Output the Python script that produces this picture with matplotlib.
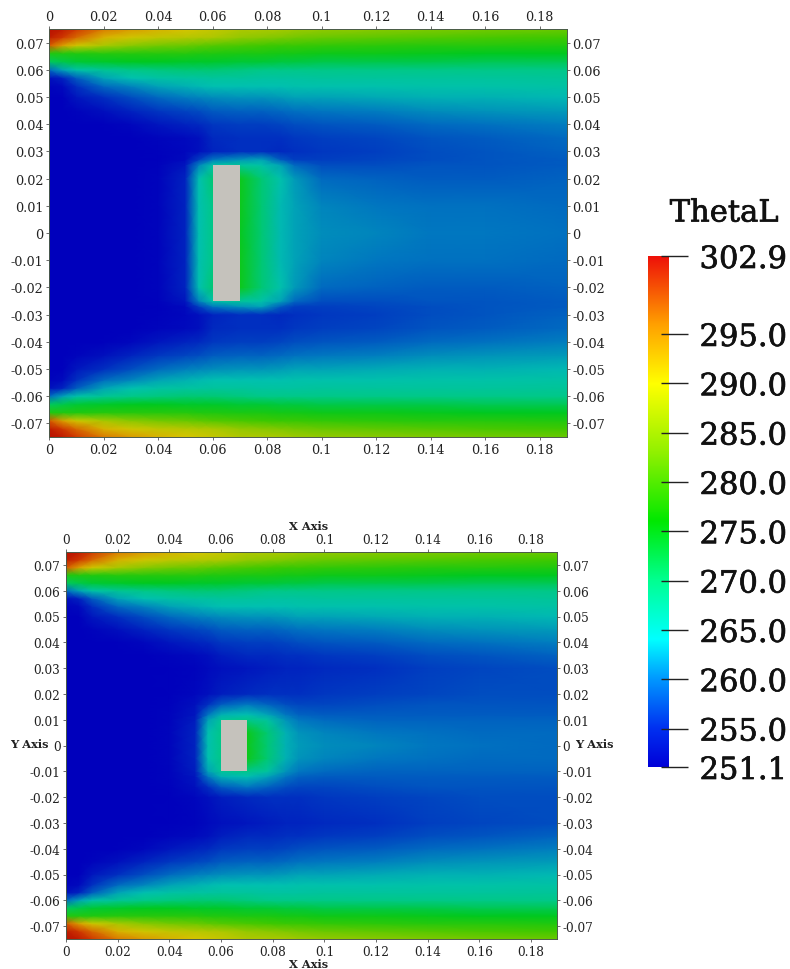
#!/usr/bin/env python3
"""Two ThetaL temperature fields around a grey block, with one shared scale bar."""

import matplotlib

matplotlib.use("Agg")
import matplotlib.patheffects as pe
import matplotlib.pyplot as plt
import numpy as np
from matplotlib.cm import ScalarMappable
from matplotlib.colors import LinearSegmentedColormap, Normalize
from matplotlib.patches import Rectangle

FIG_W, FIG_H = 790, 970

# Stations the field was read at. Only the upper half is read, the picture is mirror symmetric.
x_stations = [0, 0.005, 0.01, 0.02, 0.03, 0.04, 0.05, 0.055, 0.06, 0.07, 0.078, 0.085, 0.09, 0.10, 0.12, 0.14, 0.16, 0.19]
y_band = [0.075, 0.072, 0.069, 0.066, 0.063, 0.060, 0.057, 0.054, 0.05, 0.045, 0.04]
y_core_top = [0.035, 0.03, 0.027, 0.025, 0.02, 0.01, 0.0]
y_core_bottom = [0.035, 0.03, 0.02, 0.016, 0.012, 0.01, 0.005, 0.0]

band_rows = [
    [302.9, 302, 300, 296, 293.5, 291.5, 290, 289, 288, 286, 285.5, 285, 284.5, 284, 283.5, 283, 282.5, 282],
    [302, 300, 297, 291.5, 289, 287.5, 286.5, 286, 285.5, 284, 283.5, 283, 282.5, 282, 281.5, 281, 280.5, 280],
    [298, 293, 289, 285, 283.5, 282.5, 282, 281.5, 281, 280.5, 280, 279.5, 279.5, 279, 278.5, 278, 278, 277.5],
    [277.5, 277.5, 277.5, 278, 278, 278, 278, 277.5, 277.5, 277, 277, 276.5, 276.5, 276, 276, 275.5, 275, 275],
    [272, 273, 274, 274.5, 275, 275, 274.5, 274.5, 274.5, 274, 274, 273.5, 273.5, 273, 273, 273, 272.5, 272.5],
    [259, 263, 266, 268.5, 270, 270.5, 271, 271, 271, 270.5, 270, 270, 270, 270, 270, 270, 270, 270],
    [252.5, 254, 258, 263, 265, 266.5, 267, 267, 267.5, 267.5, 267, 267, 267, 267.5, 267.5, 267.5, 267.5, 268],
    [251.5, 252, 255, 259, 261, 263, 264, 264.5, 265, 265, 265, 265, 265.5, 265.5, 265.5, 266, 266, 266.5],
    [251.2, 251.3, 253, 255, 257, 259, 260.5, 261, 261.5, 262, 262, 262.5, 263, 263, 263.5, 264, 264, 264.5],
    [251.1, 251.1, 251.5, 252.5, 254, 255.5, 256.5, 257, 258, 258.5, 258.5, 259, 259.5, 260, 260.5, 261.5, 262, 262.5],
    [251.1, 251.1, 251.1, 251.3, 251.8, 253, 254, 254.5, 255.5, 256, 256, 256.5, 257, 257.5, 258, 259, 259.5, 260.5],
]

core_rows_top = [
    [251.1, 251.1, 251.1, 251.1, 251.2, 251.6, 252, 252.5, 254.5, 255, 255, 255, 255.5, 256, 256.5, 257.5, 258, 259],
    [251.1, 251.1, 251.1, 251.1, 251.2, 251.4, 251.8, 252.5, 254, 255, 255, 254.5, 255, 255.5, 256, 257, 257.5, 258.5],
    [251.1, 251.1, 251.1, 251.1, 251.1, 251.3, 252, 256, 260, 262, 263, 258, 256, 256, 256.5, 257, 257.5, 258],
    [251.1, 251.1, 251.1, 251.1, 251.1, 251.4, 253, 261, 266, 268, 266, 263, 259, 257, 257, 257.5, 257.5, 258],
    [251.1, 251.1, 251.1, 251.1, 251.1, 251.5, 254, 265, 271, 276, 271, 265.5, 262.5, 259, 258.5, 258, 258, 258.5],
    [251.1, 251.1, 251.1, 251.1, 251.1, 251.5, 254, 265, 270, 276, 271, 264.5, 263, 261, 260, 259.5, 259.5, 259],
    [251.1, 251.1, 251.1, 251.1, 251.1, 251.5, 254, 265, 270, 275.5, 271, 264.5, 263, 261.5, 261, 260, 260, 259.5],
]

core_rows_bottom = [
    [251.1, 251.1, 251.1, 251.1, 251.2, 251.6, 252, 252.5, 253.5, 254.5, 254.5, 255, 255, 255.5, 256, 257, 257.5, 258.5],
    [251.1, 251.1, 251.1, 251.1, 251.2, 251.3, 251.5, 252, 252.5, 253, 253.5, 254, 254, 254.5, 255, 256, 256.5, 257],
    [251.1, 251.1, 251.1, 251.1, 251.1, 251.3, 251.8, 252.5, 253.5, 254.5, 255, 255, 255, 255.5, 256, 256.5, 257, 257],
    [251.1, 251.1, 251.1, 251.1, 251.1, 251.4, 252.5, 255, 258, 260, 258.5, 257, 256.5, 256.5, 257, 257.5, 257.5, 257.5],
    [251.1, 251.1, 251.1, 251.1, 251.1, 251.5, 253, 260, 264, 265, 263, 260, 258.5, 258, 258, 258, 258, 258],
    [251.1, 251.1, 251.1, 251.1, 251.1, 251.5, 253.5, 263, 268, 270, 267, 262, 260, 259, 258.5, 258.5, 258.5, 258.5],
    [251.1, 251.1, 251.1, 251.1, 251.1, 251.6, 254, 265, 270, 276, 271, 264, 262, 261, 260, 259.5, 259, 259],
    [251.1, 251.1, 251.1, 251.1, 251.1, 251.6, 254, 265, 270, 276, 271, 264, 262.5, 261.5, 261, 260, 259.5, 259],
]

x_ticks = [0, 0.02, 0.04, 0.06, 0.08, 0.1, 0.12, 0.14, 0.16, 0.18]
x_labels = ["0", "0.02", "0.04", "0.06", "0.08", "0.1", "0.12", "0.14", "0.16", "0.18"]
y_ticks = [0.07, 0.06, 0.05, 0.04, 0.03, 0.02, 0.01, 0, -0.01, -0.02, -0.03, -0.04, -0.05, -0.06, -0.07]
y_labels = ["0.07", "0.06", "0.05", "0.04", "0.03", "0.02", "0.01", "0",
            "-0.01", "-0.02", "-0.03", "-0.04", "-0.05", "-0.06", "-0.07"]
bar_ticks = [302.9, 295, 290, 285, 280, 275, 270, 265, 260, 255, 251.1]
bar_labels = ["302.9", "295.0", "290.0", "285.0", "280.0", "275.0", "270.0", "265.0", "260.0", "255.0", "251.1"]

V_MIN, V_MAX = 251.1, 302.9

# The field is drawn darker than the bar, as if lit, so each has its own colour stops.
field_stops = [(251.1, "#0000bc"), (255, "#0030c0"), (260, "#0078c0"), (265, "#00c0b0"), (270, "#00c888"),
               (275, "#00c820"), (280, "#40c800"), (285, "#a8c800"), (290, "#d8c400"), (295, "#dc8800"),
               (300, "#d03800"), (302.9, "#b81000")]
bar_stops = [(251.1, "#0000d8"), (255, "#0030f0"), (260, "#0098ff"), (264, "#00ffff"), (270, "#00ff90"),
             (276, "#00e800"), (283, "#90f000"), (290, "#ffff00"), (296, "#ffa000"), (302.9, "#ee1008")]


def make_cmap(name, stops):
    pos = [(v - V_MIN) / (V_MAX - V_MIN) for v, _ in stops]
    return LinearSegmentedColormap.from_list(name, list(zip(pos, [c for _, c in stops])), N=512)


def add_axes_px(fig, left, top, right, bottom):
    return fig.add_axes([left / FIG_W, 1 - bottom / FIG_H, (right - left) / FIG_W, (bottom - top) / FIG_H])


def draw_panel(fig, box, y_upper, rows, block_half, fontsize, cmap, norm):
    ax = add_axes_px(fig, *box)
    y_upper = np.array(y_upper)
    field = np.array(rows)
    # mirror the upper half, ascending y for pcolormesh
    y = np.concatenate([-y_upper[:-1], y_upper[::-1]])
    z = np.vstack([field[:-1], field[::-1]])
    ax.pcolormesh(x_stations, y, z, shading="gouraud", cmap=cmap, norm=norm)
    ax.add_patch(Rectangle((0.06, -block_half), 0.01, 2 * block_half, facecolor="#c5c2bc", edgecolor="none"))
    ax.set_xlim(0, 0.19)
    ax.set_ylim(-0.075, 0.075)

    ax.set_xticks(x_ticks, x_labels)
    ax.set_yticks(y_ticks, y_labels)
    ax.tick_params(axis="both", which="major", length=2, width=0.6, color="#555555", labelsize=fontsize,
                   labelcolor="#222222", pad=2, top=True, right=True, labeltop=True, labelright=True)
    for spine in ax.spines.values():
        spine.set_linewidth(0.7)
        spine.set_color("#4a5a4a")
    return ax


plt.rcParams["font.family"] = ["DejaVu Serif"]
fig = plt.figure(figsize=(FIG_W / 100, FIG_H / 100), dpi=100, facecolor="white")

field_cmap = make_cmap("field", field_stops)
bar_cmap = make_cmap("bar", bar_stops)
norm = Normalize(V_MIN, V_MAX)

draw_panel(fig, (49, 30, 567, 438), y_band + y_core_top, band_rows + core_rows_top, 0.025, 9.2, field_cmap, norm)
draw_panel(fig, (66, 553, 557, 940), y_band + y_core_bottom, band_rows + core_rows_bottom, 0.01, 8.7,
           field_cmap, norm)

# axis titles only on the lower panel
for py in (527, 965):
    fig.text(309 / FIG_W, 1 - py / FIG_H, "X Axis", ha="center", va="center", fontsize=8.2, fontweight="bold",
             color="#222222")
for px in (29, 594):
    fig.text(px / FIG_W, 1 - 745 / FIG_H, "Y Axis", ha="center", va="center", fontsize=8.2, fontweight="bold",
             color="#222222")

# scale bar, heavier strokes on its text like the reference
heavy = [pe.withStroke(linewidth=0.5, foreground="#111111")]
cax = add_axes_px(fig, 648, 257, 669, 768)
cbar = fig.colorbar(ScalarMappable(norm=norm, cmap=bar_cmap), cax=cax)
cbar.outline.set_visible(False)
cbar.set_ticks(bar_ticks, labels=bar_labels)
cax.tick_params(axis="y", length=0, pad=22, labelsize=22, labelcolor="#111111")
for label in cax.get_yticklabels():
    label.set_path_effects(heavy)
cax.hlines(bar_ticks, 0.6, 1.9, transform=cax.get_yaxis_transform(), color="#222222", lw=1.0, clip_on=False)
fig.text(724 / FIG_W, 1 - 214 / FIG_H, "ThetaL", ha="center", va="center", fontsize=22,
         color="#111111", path_effects=heavy)

fig.savefig("out.png", dpi=100, facecolor="white")
plt.close(fig)
